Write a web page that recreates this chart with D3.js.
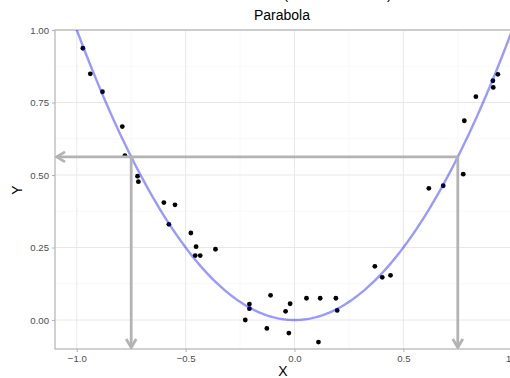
<!DOCTYPE html>
<html>
<head>
<meta charset="utf-8">
<script src="https://cdn.jsdelivr.net/npm/d3@7.9.0/dist/d3.min.js"></script>
<style>
  html, body { margin: 0; padding: 0; background: #fff; overflow: hidden; }
  svg { display: block; font-family: Arial, "Liberation Sans", sans-serif; }
</style>
</head>
<body>
<svg id="chart" width="560" height="378"></svg>
<script>
// --- data
const xs = [-0.972, -0.938, -0.882, -0.791, -0.779, -0.721, -0.717,
            -0.600, -0.549, -0.577, -0.476, -0.452, -0.456, -0.433, -0.363,
            -0.207, -0.207, -0.226, -0.110, -0.127, -0.041, -0.020, -0.026,
            0.055, 0.118, 0.110, 0.190, 0.196, 0.369, 0.403, 0.441,
            0.617, 0.683, 0.775, 0.780, 0.833, 0.911, 0.913, 0.934];
const ys = [0.937, 0.849, 0.787, 0.667, 0.567, 0.496, 0.477,
            0.405, 0.397, 0.330, 0.300, 0.253, 0.222, 0.222, 0.244,
            0.055, 0.039, 0.000, 0.085, -0.029, 0.030, 0.056, -0.045,
            0.075, 0.075, -0.076, 0.075, 0.033, 0.185, 0.147, 0.154,
            0.454, 0.463, 0.503, 0.687, 0.770, 0.825, 0.802, 0.847];
const xTicks = [-1.0, -0.5, 0.0, 0.5, 1.0];
const yTicks = [0.00, 0.25, 0.50, 0.75, 1.00];
const xMinor = [-0.75, -0.25, 0.25, 0.75];
const yMinor = [0.125, 0.375, 0.625, 0.875];
const guideX = [-0.75, 0.75];
const parabola = x => x * x;

const svg = d3.select('#chart');
const pLeft = 55, pTop = 30, pBottom = 349, pRight = 534;

const x = d3.scaleLinear().domain([-1.1, 1.1]).range([pLeft, pRight]);
const y = d3.scaleLinear().domain([-0.1, 1.0]).range([pBottom, pTop]);

svg.append('clipPath').attr('id', 'panel')
  .append('rect').attr('x', pLeft).attr('y', pTop)
  .attr('width', pRight - pLeft).attr('height', pBottom - pTop);

// grid
const grid = svg.append('g');
grid.selectAll('.xm').data(xMinor).join('line')
  .attr('x1', d => x(d)).attr('x2', d => x(d)).attr('y1', pTop).attr('y2', pBottom)
  .attr('stroke', '#f3f3f3').attr('stroke-width', 0.6);
grid.selectAll('.ym').data(yMinor).join('line')
  .attr('y1', d => y(d)).attr('y2', d => y(d)).attr('x1', pLeft).attr('x2', pRight)
  .attr('stroke', '#f3f3f3').attr('stroke-width', 0.6);
grid.selectAll('.xM').data(xTicks).join('line')
  .attr('x1', d => x(d)).attr('x2', d => x(d)).attr('y1', pTop).attr('y2', pBottom)
  .attr('stroke', '#e8e8e8').attr('stroke-width', 1);
grid.selectAll('.yM').data(yTicks).join('line')
  .attr('y1', d => y(d)).attr('y2', d => y(d)).attr('x1', pLeft).attr('x2', pRight)
  .attr('stroke', '#e8e8e8').attr('stroke-width', 1);

// panel border
svg.append('rect').attr('x', pLeft).attr('y', pTop)
  .attr('width', pRight - pLeft).attr('height', pBottom - pTop)
  .attr('fill', 'none').attr('stroke', '#b3b3b3').attr('stroke-width', 1.2);

// axes
const xAxis = svg.append('g').attr('transform', `translate(0,${pBottom})`)
  .call(d3.axisBottom(x).tickValues(xTicks).tickFormat(d3.format('.1f')).tickSize(3).tickPadding(3));
const yAxis = svg.append('g').attr('transform', `translate(${pLeft},0)`)
  .call(d3.axisLeft(y).tickValues(yTicks).tickFormat(d3.format('.2f')).tickSize(3).tickPadding(3));
[xAxis, yAxis].forEach(a => {
  a.select('.domain').remove();
  a.selectAll('line').attr('stroke', '#b3b3b3');
  a.selectAll('text').attr('fill', '#4d4d4d').style('font-size', '9.6px')
    .style('font-family', 'Arial, "Liberation Sans", sans-serif');
});

const plot = svg.append('g').attr('clip-path', 'url(#panel)');

// points
plot.selectAll('circle').data(xs.map((v, i) => [v, ys[i]])).join('circle')
  .attr('cx', d => x(d[0])).attr('cy', d => y(d[1])).attr('r', 2.4)
  .attr('fill', '#000');

// parabola (semi-transparent blue drawn over the points)
const curve = d3.range(-1.1, 1.1001, 0.01).map(v => [v, parabola(v)]);
plot.append('path').datum(curve)
  .attr('d', d3.line().x(d => x(d[0])).y(d => y(d[1])))
  .attr('fill', 'none').attr('stroke', '#0000ff').attr('stroke-opacity', 0.4)
  .attr('stroke-width', 2.4);

// guide arrows, on top
const gray = '#b3b3b3';
const yg = parabola(guideX[1]);
plot.append('line')
  .attr('x1', x(guideX[1])).attr('x2', pLeft + 1.5)
  .attr('y1', y(yg)).attr('y2', y(yg))
  .attr('stroke', gray).attr('stroke-width', 2.8);
guideX.forEach(gx => {
  plot.append('line')
    .attr('x1', x(gx)).attr('x2', x(gx))
    .attr('y1', y(parabola(gx))).attr('y2', pBottom - 1.5)
    .attr('stroke', gray).attr('stroke-width', 2.8);
  plot.append('path')
    .attr('d', `M${x(gx) - 5},${pBottom - 10} L${x(gx)},${pBottom - 1.5} L${x(gx) + 5},${pBottom - 10}`)
    .attr('fill', 'none').attr('stroke', gray).attr('stroke-width', 2.8);
});
plot.append('path')
  .attr('d', `M${pLeft + 10},${y(yg) - 5} L${pLeft + 1.5},${y(yg)} L${pLeft + 10},${y(yg) + 5}`)
  .attr('fill', 'none').attr('stroke', gray).attr('stroke-width', 2.8);

// titles (the upper one is cut off by the top edge, as in the reference)
svg.append('text').attr('x', 284).attr('y', -1.5).attr('text-anchor', 'middle')
  .style('font-size', '14px').attr('fill', '#000').text('Function Inverse (Read Backward)');
svg.append('text').attr('x', 282).attr('y', 20).attr('text-anchor', 'middle')
  .style('font-size', '14px').attr('fill', '#000').text('Parabola');
svg.append('text').attr('x', 283).attr('y', 376).attr('text-anchor', 'middle')
  .style('font-size', '14px').attr('fill', '#000').text('X');
svg.append('text').attr('transform', 'translate(22,190) rotate(-90)').attr('text-anchor', 'middle')
  .style('font-size', '14px').attr('fill', '#000').text('Y');
</script>
</body>
</html>
